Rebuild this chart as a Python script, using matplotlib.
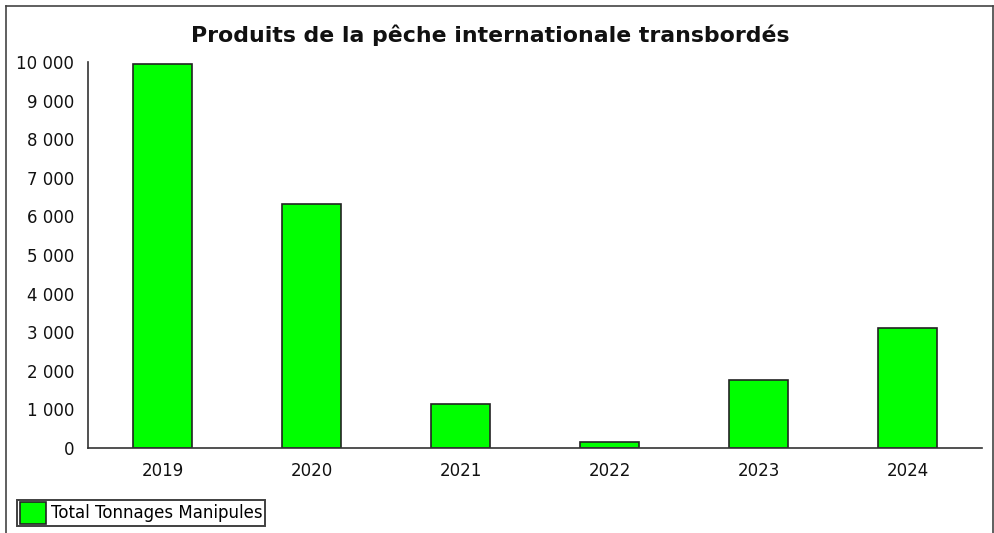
import matplotlib
matplotlib.use("Agg")
import matplotlib.pyplot as plt
from matplotlib.lines import Line2D
from matplotlib.ticker import FuncFormatter

years = ["2019", "2020", "2021", "2022", "2023", "2024"]
tonnages = [9940, 6310, 1150, 160, 1760, 3100]
series_name = "Total Tonnages Manipules"
title = "Produits de la pêche internationale transbordés"

W, H = 994, 533
fig = plt.figure(figsize=(W / 100, H / 100), dpi=100)
fig.patch.set_facecolor("white")

ax = fig.add_axes([88 / W, 1 - 448 / H, (982 - 88) / W, (448 - 62) / H])
x = range(len(years))
bars = ax.bar(x, tonnages, width=0.39, color="#00FF00", edgecolor="#222222",
              linewidth=1.2, label=series_name, zorder=2)
ax.set_xlim(-0.5, len(years) - 0.5)
ax.set_ylim(0, 10000)
ax.set_yticks(range(0, 10001, 1000))
ax.yaxis.set_major_formatter(FuncFormatter(lambda v, p: f"{int(v):,}".replace(",", " ")))
ax.set_xticks(list(x))
ax.set_xticklabels(years)
for s in ["top", "right"]:
    ax.spines[s].set_visible(False)
for s in ["left", "bottom"]:
    ax.spines[s].set_color("#333333")
    ax.spines[s].set_linewidth(1.2)
    ax.spines[s].set_zorder(3)
ax.tick_params(axis="both", length=0, labelsize=12, colors="#111111")
ax.tick_params(axis="y", pad=10)
ax.tick_params(axis="x", pad=10)

fig.text(490 / W, 1 - 35 / H, title, ha="center", va="center",
         fontsize=15.8, fontweight="bold", color="#111111")

leg = fig.legend(handles=[bars], labels=[series_name], loc="lower left",
                 bbox_to_anchor=(17 / W, 1 - 526 / H), borderaxespad=0,
                 fontsize=12, frameon=True, fancybox=False, edgecolor="#111111",
                 handlelength=1.6, handleheight=1.6, handletextpad=0.3,
                 borderpad=0.15)
leg.get_frame().set_linewidth(1.4)

# outer frame
for xs, ys in [([6, 6], [6, 540]), ([6, 993], [6, 6]), ([993, 993], [6, 540])]:
    fig.add_artist(Line2D([v / W for v in xs], [1 - v / H for v in ys],
                          color="#444444", linewidth=1.2))

fig.savefig("out.png", dpi=100)
